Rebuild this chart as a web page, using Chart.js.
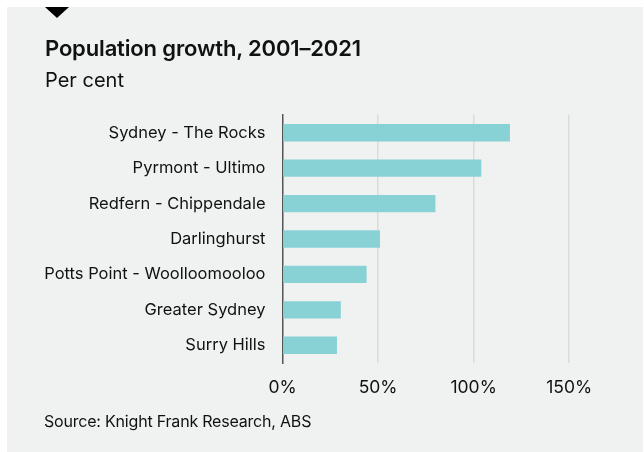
<!DOCTYPE html>
<html>
<head>
<meta charset="utf-8">
<script src="https://cdn.jsdelivr.net/npm/chart.js@4"></script>
<style>
  html, body { margin: 0; padding: 0; background: #fff; }
  #panel {
    position: absolute; left: 7px; top: 7px; width: 636px; height: 445px;
    background: #eff2f1; font-family: Inter, sans-serif; color: #111;
  }
  #panel div { position: absolute; left: 38px; line-height: 1; white-space: nowrap; }
  #marker {
    top: 0; width: 0; height: 0;
    border-left: 12px solid transparent; border-right: 12px solid transparent;
    border-top: 11px solid #000;
  }
  #title { top: 30px; font-size: 22px; font-weight: 600; letter-spacing: -0.15px; }
  #subtitle { top: 62.5px; font-size: 20px; }
  #source { left: 37px !important; top: 405.5px; font-size: 16px; letter-spacing: -0.2px; }
  canvas { position: absolute; left: 0; top: 0; }
</style>
</head>
<body>
<div id="panel">
  <canvas id="growthChart" width="636" height="445"></canvas>
  <div id="marker"></div>
  <div id="title">Population growth, 2001–2021</div>
  <div id="subtitle">Per cent</div>
  <div id="source">Source: Knight Frank Research, ABS</div>
</div>
<script>
const suburbs = ['Sydney - The Rocks', 'Pyrmont - Ultimo', 'Redfern - Chippendale', 'Darlinghurst',
                 'Potts Point - Woolloomooloo', 'Greater Sydney', 'Surry Hills'];
const growth = [119, 104, 80, 51, 44, 30.5, 28.5];
const tickValues = [0, 50, 100, 150];

Chart.defaults.font.family = 'Inter, sans-serif';
Chart.defaults.color = '#111';

const ctx = document.getElementById('growthChart').getContext('2d');
const growthChart = new Chart(ctx, {
    type: 'bar',
    data: {
        labels: suburbs,
        datasets: [{
            label: 'Population growth',
            data: growth,
            backgroundColor: '#88d2d6',
            categoryPercentage: 1,
            barPercentage: 0.49
        }]
    },
    options: {
        indexAxis: 'y',
        responsive: false,
        animation: false,
        layout: { padding: { left: 0, right: 26, top: 108, bottom: 40 } },
        plugins: {
            legend: { display: false },
            tooltip: { enabled: false }
        },
        scales: {
            x: {
                min: 0,
                max: 175,
                afterBuildTicks: s => { s.ticks = tickValues.map(v => ({ value: v })); },
                ticks: {
                    callback: v => v + '%',
                    font: { size: 17.5 },
                    color: '#111',
                    padding: 14,
                    maxRotation: 0
                },
                grid: {
                    drawTicks: false,
                    lineWidth: 1.5,
                    color: c => c.tick && c.tick.value === 0 ? 'rgba(0,0,0,0)' : '#d9dcdb'
                },
                border: { display: false }
            },
            y: {
                afterFit: s => { s.width = 275.5; },
                ticks: {
                    font: { size: 16.5 },
                    color: '#111',
                    padding: 17
                },
                grid: { display: false, drawTicks: false },
                border: { display: true, color: '#555', width: 1.5 }
            }
        }
    }
});
</script>
</body>
</html>
